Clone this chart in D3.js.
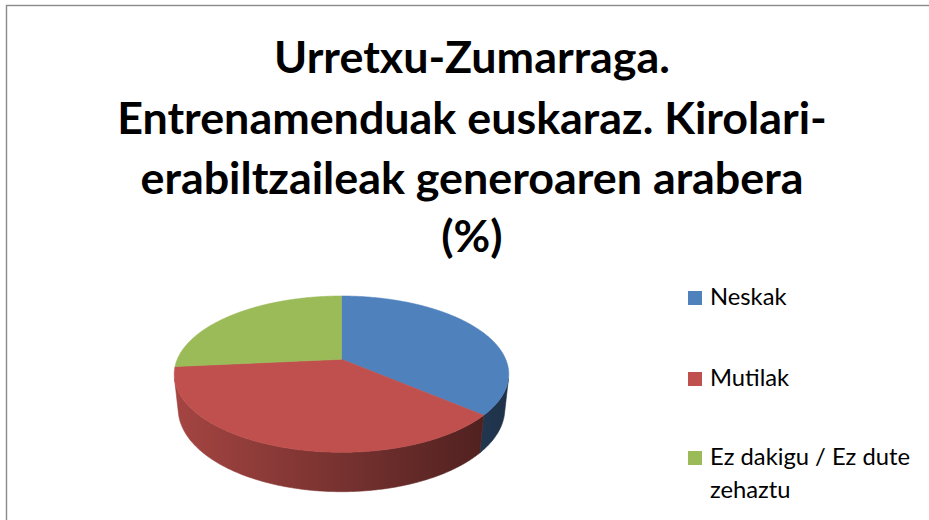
<!DOCTYPE html>
<html>
<head>
<meta charset="utf-8">
<script src="https://cdn.jsdelivr.net/npm/d3@7"></script>
<style>
  html, body { margin: 0; padding: 0; background: #fff; }
  svg { display: block; }
</style>
</head>
<body>
<script>
// ---- data ----
const categories = ["Neskak", "Mutilak", "Ez dakigu / Ez dute zehaztu"];
const values = [36.3, 37.2, 26.5];
const titleLines = [
  "Urretxu-Zumarraga.",
  "Entrenamenduak euskaraz. Kirolari-",
  "erabiltzaileak generoaren arabera",
  "(%)"
];

// ---- styles ----
const colors = ["#4F81BD", "#C0504D", "#9BBB59"];
const W = 929, H = 520;
const titleFont = "Lato, 'Open Sans', sans-serif";

const svg = d3.select("body").append("svg")
  .attr("width", W).attr("height", H);

svg.append("rect").attr("width", W).attr("height", H).attr("fill", "#fff");

// chart frame
svg.append("rect")
  .attr("x", 6.5).attr("y", 5.5)
  .attr("width", W + 10).attr("height", H + 10)
  .attr("fill", "none")
  .attr("stroke", "#8a8a8a")
  .attr("stroke-width", 1.4);

// ---- title ----
const title = svg.append("g");
const titleText = title.selectAll("text").data(titleLines).join("text")
  .attr("x", 472)
  .attr("text-anchor", "middle")
  .attr("font-family", titleFont)
  .attr("font-weight", "bold")
  .attr("font-size", 40)
  .attr("fill", "#000")
  .text(d => d);
// size the title so its widest line spans the intended width
const w2 = titleText.filter((d, i) => i === 1).node().getComputedTextLength();
const titleSize = 40 * 710 / w2;
const titleBase = [73, 134, 194, 252];
titleText.attr("font-size", titleSize).attr("y", (d, i) => titleBase[i]);

// ---- 3D pie projection ----
const cam = {
  cx: 341.5, cy: 359.3, f: 768, D: 4.677,
  sinE: 0.4586, cosE: 0.8886, depth: 0.2403
};
function project(X, Y, Z) {
  const yc = Y * cam.cosE - Z * cam.sinE;
  const zc = cam.D - (Z * cam.cosE + Y * cam.sinE);
  return [cam.cx + cam.f * X / zc, cam.cy - cam.f * yc / zc];
}
const rimPoint = (a, Y) => project(Math.sin(a), Y, -Math.cos(a));

const pie = d3.pie().sort(null).value(d => d)(values);
const line = d3.line();

function arcSamples(a0, a1) {
  const n = Math.max(2, Math.ceil((a1 - a0) / (Math.PI / 360)));
  return d3.range(n + 1).map(i => a0 + (a1 - a0) * i / n);
}

// outer wall faces the viewer where cos(a) < -1/(D cosE)
const limit = Math.acos(-1 / (cam.D * cam.cosE));
const visLo = limit, visHi = 2 * Math.PI - limit;

const defs = svg.append("defs");
const xLeft = cam.cx - 168, xRight = cam.cx + 168;

const walls = svg.append("g");
const tops = svg.append("g");

pie.forEach((s, i) => {
  const base = d3.rgb(colors[i]);
  const gid = "wall" + i;
  const g = defs.append("linearGradient")
    .attr("id", gid)
    .attr("gradientUnits", "userSpaceOnUse")
    .attr("x1", xLeft).attr("x2", xRight).attr("y1", 0).attr("y2", 0);
  [[0, 0.86], [0.5, 0.62], [1, 0.38]].forEach(([o, k]) => {
    g.append("stop").attr("offset", o)
      .attr("stop-color", d3.rgb(base.r * k, base.g * k, base.b * k).formatHex());
  });

  const a0 = Math.max(s.startAngle, visLo);
  const a1 = Math.min(s.endAngle, visHi);
  if (a1 > a0) {
    const angs = arcSamples(a0, a1);
    const topPts = angs.map(a => rimPoint(a, 0));
    const botPts = angs.slice().reverse().map(a => rimPoint(a, -cam.depth));
    walls.append("path")
      .attr("d", line(topPts.concat(botPts)) + "Z")
      .attr("fill", `url(#${gid})`)
      .attr("stroke", `url(#${gid})`)
      .attr("stroke-width", 0.6);
  }
});

pie.forEach((s, i) => {
  const pts = [project(0, 0, 0)].concat(arcSamples(s.startAngle, s.endAngle).map(a => rimPoint(a, 0)));
  tops.append("path")
    .attr("d", line(pts) + "Z")
    .attr("fill", colors[i])
    .attr("stroke", colors[i])
    .attr("stroke-width", 0.6)
    .attr("stroke-linejoin", "round");
});

// ---- legend ----
const legend = svg.append("g");
const legendFont = "Lato, 'Open Sans', sans-serif";
const legendBase = [305, 386, 465];
const probe = legend.append("text").attr("font-family", legendFont).attr("font-size", 20).text("Ez dakigu / Ez dute");
const legendSize = 20 * 200 / probe.node().getComputedTextLength();
probe.remove();

function wrap(str, maxW) {
  const words = str.split(" ");
  const lines = [];
  let cur = "";
  const t = legend.append("text").attr("font-family", legendFont).attr("font-size", legendSize);
  words.forEach(w => {
    const test = cur ? cur + " " + w : w;
    t.text(test);
    if (t.node().getComputedTextLength() > maxW && cur) { lines.push(cur); cur = w; }
    else cur = test;
  });
  lines.push(cur);
  t.remove();
  return lines;
}

categories.forEach((c, i) => {
  legend.append("rect")
    .attr("x", 688).attr("y", legendBase[i] - 14)
    .attr("width", 14).attr("height", 14)
    .attr("fill", colors[i]);
  const t = legend.append("text")
    .attr("x", 710).attr("y", legendBase[i])
    .attr("font-family", legendFont)
    .attr("font-size", legendSize)
    .attr("fill", "#000");
  wrap(c, 212).forEach((ln, j) => {
    t.append("tspan").attr("x", 710).attr("y", legendBase[i] + j * 33).text(ln);
  });
});
</script>
</body>
</html>
